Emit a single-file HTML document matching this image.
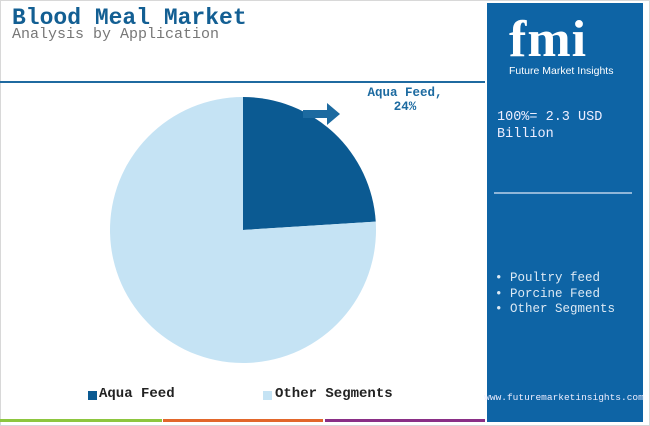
<!DOCTYPE html><html><head><meta charset="utf-8"><style>
body{margin:0;width:650px;height:426px;background:#fff;position:relative;overflow:hidden;font-family:"Liberation Mono",monospace}
div,span{position:absolute}
</style></head><body>
<div style="left:0;top:0;width:648px;height:424px;border:1px solid #d8d8d8"></div>
<div style="left:12px;top:5px;font-size:23px;font-weight:bold;color:#135f93;letter-spacing:0px">Blood Meal Market</div>
<div style="left:12px;top:26px;font-size:15px;color:#777">Analysis by Application</div>
<div style="left:0;top:81px;width:485px;height:2px;background:#1f6aa0"></div>
<svg style="position:absolute;left:0;top:0" width="485" height="426" id="pie"></svg>
<div style="left:355px;top:86px;width:100px;text-align:center;font-size:12.5px;font-weight:bold;color:#1c6aa0;line-height:14px">Aqua Feed,<br>24%</div>
<div style="left:88px;top:386px;font-size:14px;font-weight:bold;color:#222">
<span style="left:0;top:5px;width:9px;height:9px;background:#0b5a92"></span><span style="left:11px;top:0;white-space:nowrap">Aqua Feed</span>
<span style="left:175px;top:5px;width:9px;height:9px;background:#c5e3f4"></span><span style="left:187px;top:0;white-space:nowrap">Other Segments</span></div>
<div style="left:0;top:419px;width:162px;height:3px;background:#8dc63f"></div>
<div style="left:163px;top:419px;width:160px;height:3px;background:#e2672b"></div>
<div style="left:325px;top:419px;width:160px;height:3px;background:#8a2f86"></div>
<div style="left:487px;top:3px;width:156px;height:419px;background:#0e64a5;color:#dce9f4">
<div style="left:22px;top:12px;font-family:'Liberation Serif',serif;font-weight:bold;font-size:52px;color:#fff;line-height:50px;letter-spacing:1px">fmi</div>
<div style="left:22px;top:62px;font-family:'Liberation Sans',sans-serif;font-size:10.5px;color:#fff;white-space:nowrap">Future Market Insights</div>
<div style="left:10px;top:106px;font-size:13.5px;line-height:17px;color:#eef">100%= 2.3 USD<br>Billion</div>
<div style="left:7px;top:189px;width:138px;height:2px;background:#8fb6d8"></div>
<div style="left:8px;top:268px;font-size:12.5px;line-height:15.5px;white-space:nowrap">• Poultry feed<br>• Porcine Feed<br>• Other Segments</div>
<div style="left:-3px;top:388px;width:160px;text-align:center;font-size:9.5px;line-height:14px;color:#eef;word-break:break-all">www.futuremarketinsights.com</div>
</div>
<script>
const categories=["Aqua Feed","Other Segments"];
const values=[24,76];
const colors=["#0b5a92","#c5e3f4"];
const svg=document.getElementById('pie');const NS="http://www.w3.org/2000/svg";
const cx=243,cy=230,r=133;const total=values.reduce((a,b)=>a+b,0);let a0=0;
values.forEach((v,i)=>{const a1=a0+v/total*2*Math.PI;
const x0=cx+r*Math.sin(a0),y0=cy-r*Math.cos(a0),x1=cx+r*Math.sin(a1),y1=cy-r*Math.cos(a1);
const p=document.createElementNS(NS,'path');
p.setAttribute('d',`M${cx},${cy}L${x0},${y0}A${r},${r} 0 ${a1-a0>Math.PI?1:0} 1 ${x1},${y1}Z`);
p.setAttribute('fill',colors[i]);


svg.appendChild(p);a0=a1;});
const ar=document.createElementNS(NS,'path');
ar.setAttribute('d','M303,110L327,110L327,103L340,114L327,125L327,118L303,118Z');
ar.setAttribute('fill','#1c6aa0');


svg.appendChild(ar);
</script>
</body></html>
